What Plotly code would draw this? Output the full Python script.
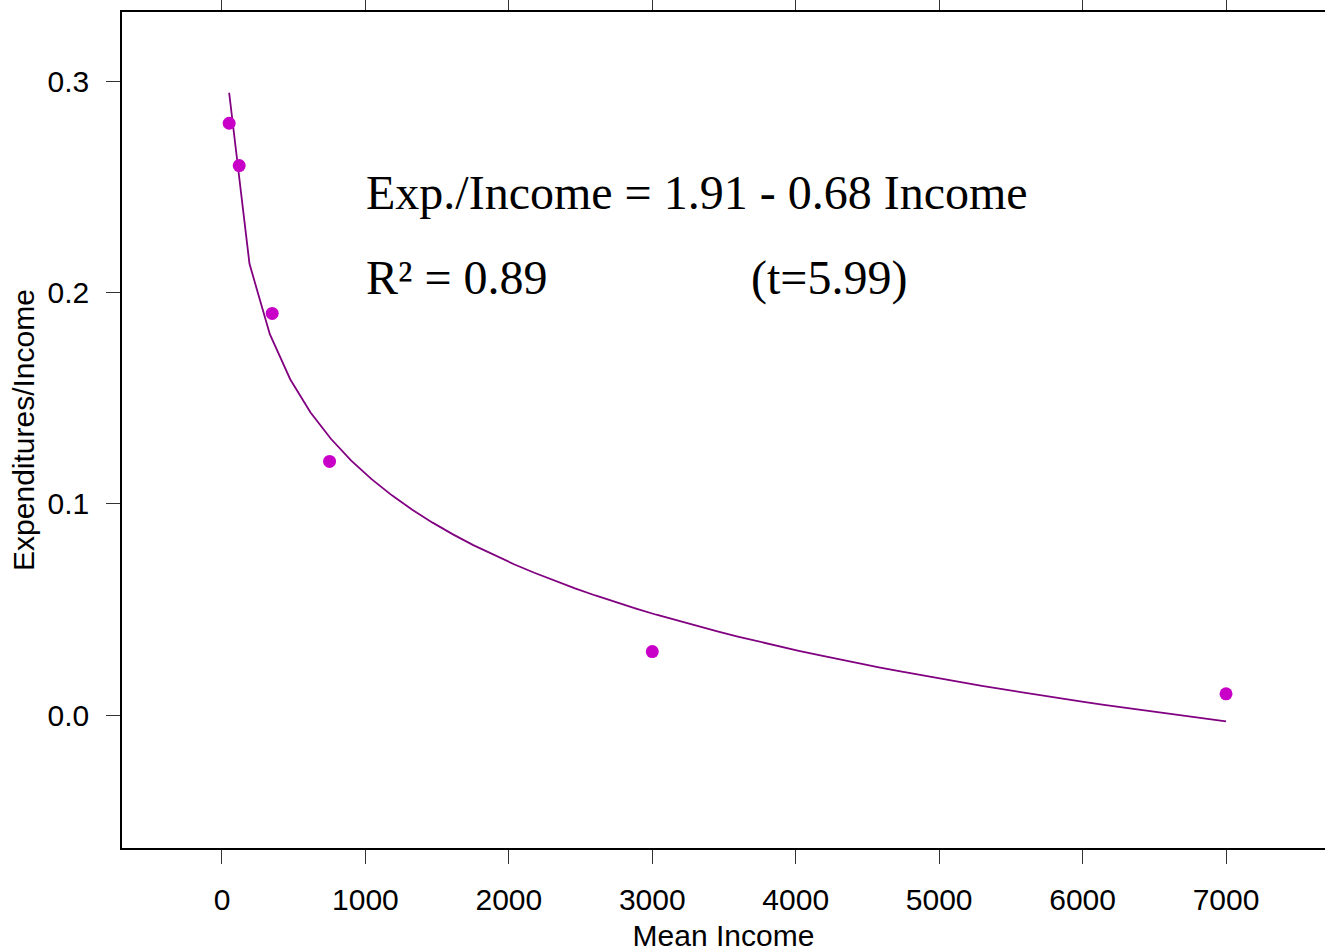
import numpy as np
import plotly.graph_objects as go

# Data
mean_income = [50, 120, 350, 750, 3000, 7000]
exp_ratio = [0.28, 0.26, 0.19, 0.12, 0.03, 0.01]

x_ticks = [0, 1000, 2000, 3000, 4000, 5000, 6000, 7000]
y_ticks = [0.0, 0.1, 0.2, 0.3]
y_ticklabels = ["0.0", "0.1", "0.2", "0.3"]

# Log fit of the data (as drawn in the chart)
lx = np.log(np.array(mean_income, dtype=float))
yy = np.array(exp_ratio)
b, a = np.polyfit(lx, yy, 1)
xf = np.linspace(min(mean_income), max(mean_income), 50)
yf = a + b * np.log(xf)

fig = go.Figure()
fig.add_trace(go.Scatter(x=xf, y=yf, mode="lines",
                         line=dict(color="#800080", width=1.8), hoverinfo="skip"))
fig.add_trace(go.Scatter(x=mean_income, y=exp_ratio, mode="markers",
                         marker=dict(color="#c800c8", size=13, line=dict(width=0))))

axis_font = dict(family="Liberation Sans, Arial, sans-serif", size=30, color="black")

fig.update_layout(
    width=1325, height=952,
    margin=dict(l=122, r=0, t=12, b=104),
    paper_bgcolor="white", plot_bgcolor="white",
    showlegend=False,
    font=axis_font,
    xaxis=dict(range=[-697, 7690], tickvals=x_ticks, ticks="outside", ticklen=14,
               tickcolor="#333", tickwidth=1, showline=True, linecolor="black", linewidth=1.5,
               mirror="ticks", showgrid=False, zeroline=False, tickfont=axis_font,
               ticklabelstandoff=10, automargin=False,
               title=dict(text="Mean Income", font=axis_font, standoff=10)),
    yaxis=dict(range=[-0.06293, 0.33265], tickvals=y_ticks, ticktext=y_ticklabels,
               ticks="outside", ticklen=14, tickcolor="#333", tickwidth=1,
               showline=True, linecolor="black", linewidth=1.5, mirror="ticks",
               showgrid=False, zeroline=False, tickfont=axis_font, automargin=False,
               ticklabelstandoff=11,
               title=dict(text="Expenditures/Income", font=axis_font, standoff=4)),
)

serif = dict(family="Liberation Serif, Times New Roman, serif", size=48, color="black")
fig.add_annotation(text="Exp./Income = 1.91 - 0.68 Income", xref="paper", yref="paper",
                   x=(364 - 122) / 1203, y=1 - (192 - 12) / 836, xanchor="left",
                   yanchor="middle", showarrow=False, font=serif)
fig.add_annotation(text="R² = 0.89", xref="paper", yref="paper",
                   x=(364 - 122) / 1203, y=1 - (278 - 12) / 836, xanchor="left",
                   yanchor="middle", showarrow=False, font=serif)
fig.add_annotation(text="(t=5.99)", xref="paper", yref="paper",
                   x=(749 - 122) / 1203, y=1 - (278 - 12) / 836, xanchor="left",
                   yanchor="middle", showarrow=False, font=serif)

fig.write_html("out.html", config={"displayModeBar": False},
               post_script="document.body.style.margin='0';document.body.style.overflow='hidden';")
